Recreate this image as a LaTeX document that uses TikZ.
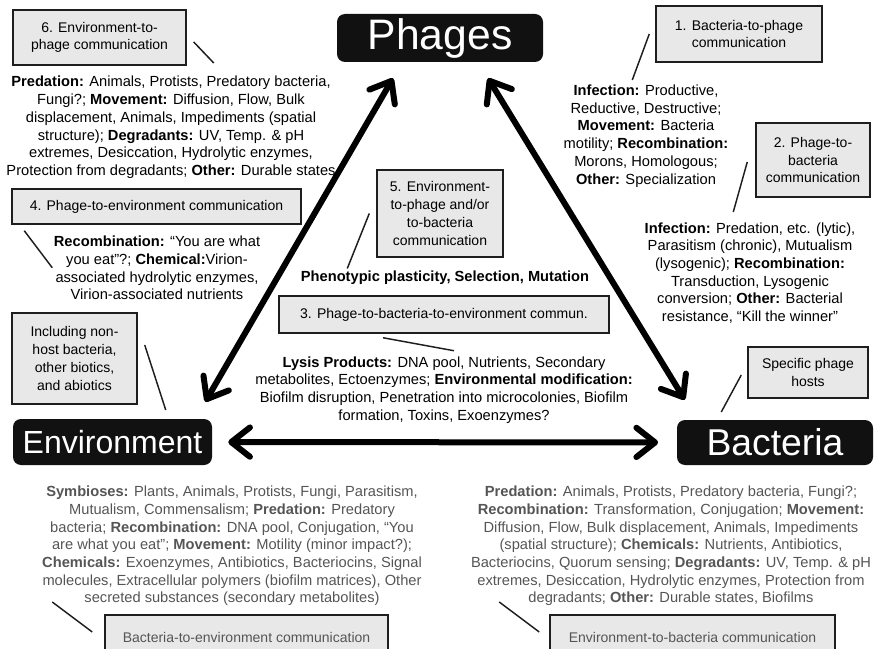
\documentclass[tikz,border=0pt]{standalone}
\usepackage{fontspec}
\setmainfont{Liberation Sans}
\usepackage{tikz}
\usetikzlibrary{arrows.meta,calc}
\definecolor{boxgray}{HTML}{E8E8E8}
\definecolor{edgegray}{HTML}{1E1E1E}
\definecolor{inkgray}{HTML}{555555}
\definecolor{hubblack}{HTML}{111111}
\newcommand{\kw}[1]{\textbf{#1}}
\tikzset{
  hub/.style={fill=hubblack,text=white,rounded corners=6pt,inner sep=0pt},
  tag/.style={draw=edgegray,fill=boxgray,line width=1.1pt,align=center,inner sep=0pt,font=\fontsize{10.5}{13.3}\selectfont},
  notes/.style={align=center,inner sep=0pt},
  lead/.style={line width=1.1pt,draw=edgegray},
  bigarrow/.style={line width=4.5pt,{Straight Barb[length=14pt,width=22pt,round]}-{Straight Barb[length=14pt,width=22pt,round]}}
}
\begin{document}
\begin{tikzpicture}[x=0.75pt,y=-0.75pt,font=\fontsize{11}{13.3}\selectfont]
\useasboundingbox (0,0) rectangle (874,649);

\node[hub,minimum width=154.5pt,minimum height=36pt,font=\fontsize{32}{36}\selectfont] (phages) at (440,38) {Phages};
\node[hub,minimum width=149.25pt,minimum height=34.5pt,font=\fontsize{24}{28}\selectfont] (env) at (112.5,442) {Environment};
\node[hub,minimum width=147pt,minimum height=33.75pt,font=\fontsize{28}{32}\selectfont] (bact) at (775,442.5) {Bacteria};

\draw[bigarrow] ($(phages.south)+(-47,16)$) -- ($(env.north east)+(-7,-17)$);
\draw[bigarrow] ($(phages.south)+(48,16)$) -- ($(bact.north west)+(8,-20)$);
\draw[bigarrow,shorten <=12pt,shorten >=14pt] (env) -- (bact);

\node[tag,minimum width=129.75pt,minimum height=41.25pt] (box6) at (99.5,37.5) {6. Environment-to-\\phage communication};
\node[tag,minimum width=124.5pt,minimum height=42pt] (box1) at (739,34) {1. Bacteria-to-phage\\communication};
\node[tag,minimum width=85.5pt,minimum height=55.5pt] (box2) at (813,160) {2. Phage-to-\\bacteria\\communication};
\node[tag,minimum width=216.75pt,minimum height=26.25pt] (box4) at (156.5,206.5) {4. Phage-to-environment communication};
\node[tag,minimum width=94.5pt,minimum height=65.25pt] (box5) at (440,213.5) {5. Environment-\\to-phage and/or\\to-bacteria\\communication};
\node[tag,minimum width=247.5pt,minimum height=27.75pt] (box3) at (444,314.5) {3. Phage-to-bacteria-to-environment commun.};
\node[tag,minimum width=93.75pt,minimum height=68.25pt] (others) at (74.5,358.5) {Including non-\\host bacteria,\\other biotics,\\and abiotics};
\node[tag,minimum width=90pt,minimum height=38.25pt] (hosts) at (808,372.5) {Specific phage\\hosts};
\node[tag,text=inkgray,minimum width=212.25pt,minimum height=33.75pt] (boxbe) at (246.5,637.5) {Bacteria-to-environment communication};
\node[tag,text=inkgray,minimum width=213.75pt,minimum height=33.75pt] (boxeb) at (692.5,637.5) {Environment-to-bacteria communication};

\node[notes] (notes6) at (171,127.5) {\kw{Predation:} Animals, Protists, Predatory bacteria,\\Fungi?; \kw{Movement:} Diffusion, Flow, Bulk\\displacement, Animals, Impediments (spatial\\structure); \kw{Degradants:} UV, Temp. \& pH\\extremes, Desiccation, Hydrolytic enzymes,\\Protection from degradants; \kw{Other:} Durable states};
\node[notes] (notes1) at (646,136) {\kw{Infection:} Productive,\\Reductive, Destructive;\\\kw{Movement:} Bacteria\\motility; \kw{Recombination:}\\Morons, Homologous;\\\kw{Other:} Specialization};
\node[notes] (notes2) at (750,273) {\kw{Infection:} Predation, etc. (lytic),\\Parasitism (chronic), Mutualism\\(lysogenic); \kw{Recombination:}\\Transduction, Lysogenic\\conversion; \kw{Other:} Bacterial\\resistance, “Kill the winner”};
\node[notes] (notes4) at (157,268) {\kw{Recombination:} “You are what\\you eat”?; \kw{Chemical:}Virion-\\associated hydrolytic enzymes,\\Virion-associated nutrients};
\node[notes,font=\fontsize{11}{13.3}\selectfont\bfseries] (notes5) at (445,278) {Phenotypic plasticity, Selection, Mutation};
\node[notes] (notes3) at (444,390) {\kw{Lysis Products:} DNA pool, Nutrients, Secondary\\metabolites, Ectoenzymes; \kw{Environmental modification:}\\Biofilm disruption, Penetration into microcolonies, Biofilm\\formation, Toxins, Exoenzymes?};
\node[notes,text=inkgray] (notesenv) at (232,546) {\kw{Symbioses:} Plants, Animals, Protists, Fungi, Parasitism,\\Mutualism, Commensalism; \kw{Predation:} Predatory\\bacteria; \kw{Recombination:} DNA pool, Conjugation, “You\\are what you eat”; \kw{Movement:} Motility (minor impact?);\\\kw{Chemicals:} Exoenzymes, Antibiotics, Bacteriocins, Signal\\molecules, Extracellular polymers (biofilm matrices), Other\\secreted substances (secondary metabolites)};
\node[notes,text=inkgray] (notesbact) at (671,546) {\kw{Predation:} Animals, Protists, Predatory bacteria, Fungi?;\\\kw{Recombination:} Transformation, Conjugation; \kw{Movement:}\\Diffusion, Flow, Bulk displacement, Animals, Impediments\\(spatial structure); \kw{Chemicals:} Nutrients, Antibiotics,\\Bacteriocins, Quorum sensing; \kw{Degradants:} UV, Temp. \& pH\\extremes, Desiccation, Hydrolytic enzymes, Protection from\\degradants; \kw{Other:} Durable states, Biofilms};

\draw[lead] ($(box6.east)+(7,4.5)$) -- ++(20,21);
\draw[lead] ($(box1.west)+(-6,0)$) -- ++(-17,46);
\draw[lead] ($(box2.west)+(-8,2)$) -- ++(-14,50);
\draw[lead] ($(box4.south west)+(13,6)$) -- ++(28,37);
\draw[lead] ($(box5.west)+(-7,0)$) -- ++(-22,55);
\draw[lead] ($(box3.south)+(-61,4)$) -- ++(71,13);
\draw[lead] ($(others.east)+(7,-13.5)$) -- ++(21,65);
\draw[lead] ($(hosts.west)+(-6,2.5)$) -- ++(-20,37);
\draw[lead] ($(boxbe.west)+(-12,-5.5)$) -- ++(-40,-30);
\draw[lead] ($(boxeb.west)+(-10,-5.5)$) -- ++(-40,-30);
\end{tikzpicture}
\end{document}
